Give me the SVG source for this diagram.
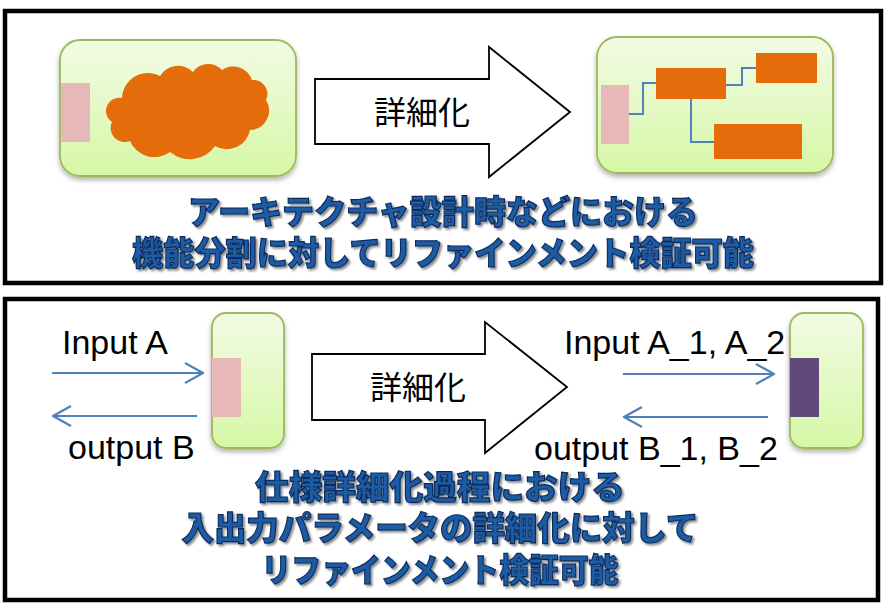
<svg xmlns="http://www.w3.org/2000/svg" width="887" height="605" viewBox="0 0 887 605">
<defs>
<linearGradient id="gbox" x1="0" y1="0" x2="0" y2="1">
<stop offset="0" stop-color="#F2FBE4"/>
<stop offset="1" stop-color="#D6F7A6"/>
</linearGradient>
<filter id="sh" x="-20%" y="-20%" width="140%" height="140%">
<feDropShadow dx="0" dy="3" stdDeviation="2.5" flood-color="#000" flood-opacity="0.3"/>
</filter>
<filter id="tsh" x="-5%" y="-20%" width="110%" height="150%">
<feDropShadow dx="2" dy="2" stdDeviation="1.2" flood-color="#000" flood-opacity="0.45"/>
</filter>
<marker id="open" viewBox="0 0 20 22" refX="19" refY="11" markerWidth="20" markerHeight="22" markerUnits="userSpaceOnUse" orient="auto">
<path d="M1,1 L19,11 L1,21" fill="none" stroke="#4F81BD" stroke-width="2.2"/>
</marker>
<style>
.frame{fill:#fff;stroke:#000;stroke-width:4.5}
.gbox{fill:url(#gbox);stroke:#9BBB59;stroke-width:1.8;filter:url(#sh)}
.pink{fill:#E6B9B8}
.orange{fill:#E46C0A}
.wire{fill:none;stroke:#4F81BD;stroke-width:2}
.bigarrow{fill:#fff;stroke:#000;stroke-width:1.8}
.jp{font-family:"Noto Sans CJK JP","Noto Sans CJK SC",sans-serif;font-size:32px;fill:#000}
.lat{font-family:"Liberation Sans",Arial,sans-serif;font-size:34px;fill:#000}
.blue{font-family:"Liberation Sans","Noto Sans CJK JP","Noto Sans CJK SC",sans-serif;font-size:33px;font-weight:900;fill:#1F5CA5;stroke:#0B2B5C;stroke-width:1.2;filter:url(#tsh);text-anchor:middle}
.conn{fill:none;stroke:#4F81BD;stroke-width:2.2;marker-end:url(#open)}
</style>
</defs>

<rect class="frame" x="5" y="11" width="876" height="272"/>
<rect class="frame" x="5" y="299" width="873" height="301"/>

<g id="top-before">
<rect class="gbox" x="60" y="40" width="236" height="136" rx="20"/>
<rect class="pink" x="61" y="83" width="29" height="59"/>
<path class="orange" d="M112,122 A13,13 0 0 1 108,104 A14,14 0 0 1 122,98 A26,26 0 0 1 160,76 A21,21 0 0 1 193,72 A18.5,18.5 0 0 1 222,70 A19.6,19.6 0 0 1 252,80 A14,14 0 0 1 266,100 A19.5,19.5 0 0 1 250,130 A23.5,23.5 0 0 1 215,146 A30.8,30.8 0 0 1 170,152 A26.5,26.5 0 0 1 130,141 A14,14 0 0 1 112,122 Z"/>
</g>

<g id="top-arrow">
<polygon class="bigarrow" points="315,79 489,79 489,47 570,112 489,177 489,144 315,144"/>
<text class="jp" x="422" y="124" text-anchor="middle">詳細化</text>
</g>

<g id="top-after">
<rect class="gbox" x="597" y="37" width="236" height="136" rx="20"/>
<rect class="pink" x="601" y="85" width="28" height="59"/>
<path class="wire" d="M629,114 H643 V83 H656"/>
<path class="wire" d="M726,85 H742 V68 H756"/>
<path class="wire" d="M691,99 V142 H714"/>
<rect class="orange" x="656" y="68" width="70" height="31"/>
<rect class="orange" x="756" y="53" width="61" height="30"/>
<rect class="orange" x="714" y="124" width="88" height="35"/>
</g>

<g id="top-caption">
<text class="blue"><tspan x="443" y="224" textLength="510" lengthAdjust="spacingAndGlyphs">アーキテクチャ設計時などにおける</tspan><tspan x="443" y="265" textLength="622" lengthAdjust="spacingAndGlyphs">機能分割に対してリファインメント検証可能</tspan></text>
</g>

<g id="bottom-before">
<rect class="gbox" x="212" y="313" width="72" height="135" rx="14"/>
<rect class="pink" x="212" y="358" width="29" height="59"/>
</g>

<g id="bottom-arrow">
<polygon class="bigarrow" points="312,354 485,354 485,322 567,387 485,453 485,420 312,420"/>
<text class="jp" x="418" y="399" text-anchor="middle">詳細化</text>
</g>

<g id="bottom-after">
<rect class="gbox" x="790" y="313" width="73" height="135" rx="14"/>
<rect x="790" y="358" width="29" height="59" fill="#604A7B"/>
</g>

<g id="connectors">
<line class="conn" x1="52" y1="373" x2="203" y2="373"/>
<line class="conn" x1="197" y1="416" x2="53" y2="416"/>
<line class="conn" x1="623" y1="374" x2="774" y2="374"/>
<line class="conn" x1="768" y1="417" x2="624" y2="417"/>
</g>

<g id="labels">
<text class="lat" x="62" y="354">Input A</text>
<text class="lat" x="68" y="459">output B</text>
<text class="lat" x="564" y="354">Input A_1, A_2</text>
<text class="lat" x="534" y="460">output B_1, B_2</text>
</g>

<g id="bottom-caption">
<text class="blue"><tspan x="440" y="499" textLength="370" lengthAdjust="spacingAndGlyphs">仕様詳細化過程における</tspan><tspan x="440" y="540" textLength="517" lengthAdjust="spacingAndGlyphs">入出力パラメータの詳細化に対して</tspan><tspan x="440" y="582" textLength="357" lengthAdjust="spacingAndGlyphs">リファインメント検証可能</tspan></text>
</g>
</svg>
